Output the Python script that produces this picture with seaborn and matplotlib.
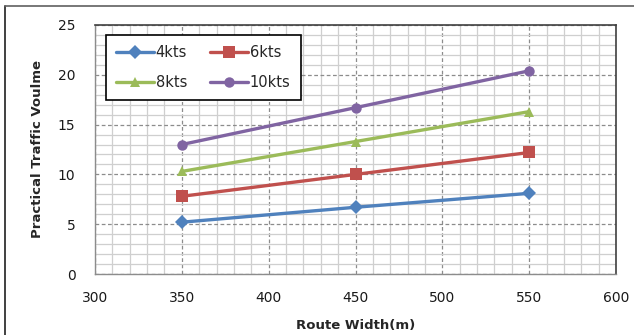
import matplotlib
matplotlib.use("Agg")
import matplotlib.pyplot as plt
from matplotlib.lines import Line2D
from matplotlib.ticker import MultipleLocator
import seaborn as sns
import pandas as pd

# Route width (m) and practical traffic volume for each vessel speed
route_width = [350, 450, 550]
vol_4kts = [5.2, 6.7, 8.1]
vol_6kts = [7.8, 10.0, 12.2]
vol_8kts = [10.3, 13.3, 16.3]
vol_10kts = [13.0, 16.7, 20.4]
speeds = ["4kts", "6kts", "8kts", "10kts"]

df = pd.DataFrame({
    "width": route_width * 4,
    "volume": vol_4kts + vol_6kts + vol_8kts + vol_10kts,
    "speed": [s for s in speeds for _ in route_width],
})

sns.set_style("white")
plt.rcParams["font.family"] = ["DejaVu Sans"]

palette = {"4kts": "#4F81BD", "6kts": "#C0504D", "8kts": "#9BBB59", "10kts": "#8064A2"}
markers = {"4kts": "D", "6kts": "s", "8kts": "^", "10kts": "o"}
msizes = {"4kts": 7, "6kts": 9, "8kts": 7, "10kts": 7.5}

fig = plt.figure(figsize=(6.34, 3.35), dpi=100)
ax = fig.add_axes([95 / 634, 1 - 274 / 335, (616 - 95) / 634, (274 - 25) / 335])

for s in speeds:
    sub = df[df["speed"] == s]
    sns.lineplot(data=sub, x="width", y="volume", ax=ax, color=palette[s],
                 marker=markers[s], markersize=msizes[s], markeredgewidth=0,
                 linewidth=2.4, label=s, zorder=5)

ax.set_xlim(300, 600)
ax.set_ylim(0, 25)
ax.xaxis.set_major_locator(MultipleLocator(50))
ax.yaxis.set_major_locator(MultipleLocator(5))
ax.xaxis.set_minor_locator(MultipleLocator(10))
ax.yaxis.set_minor_locator(MultipleLocator(1))

ax.grid(which="minor", color="#cfcfcf", linewidth=0.9, linestyle="-", zorder=0)
ax.grid(which="major", color="#8c8c8c", linewidth=0.9, linestyle=(0, (3, 2)), zorder=1)
ax.set_axisbelow(True)

for side in ["top", "right"]:
    ax.spines[side].set_color("#404040")
    ax.spines[side].set_linewidth(1.2)
for side in ["left", "bottom"]:
    ax.spines[side].set_color("#8c8c8c")
    ax.spines[side].set_linewidth(1.0)

ax.tick_params(axis="both", which="major", direction="out", length=6, width=1,
               color="#8c8c8c", labelsize=10, labelcolor="#1a1a1a")
ax.tick_params(axis="x", which="major", pad=6)
ax.tick_params(axis="y", which="major", pad=8)
ax.tick_params(which="minor", length=0)

ax.set_xlabel("Route Width(m)", fontsize=9.5, fontweight="bold")
ax.set_ylabel("Practical Traffic Voulme", fontsize=9.5, fontweight="bold")
ax.xaxis.set_label_coords(0.5, -(319 - 274) / 249)
ax.yaxis.set_label_coords(-(95 - 44) / 521, 0.5)

# legend laid out row by row: 4kts, 6kts / 8kts, 10kts
handles, labels = ax.get_legend_handles_labels()
order = [0, 2, 1, 3]
leg = ax.legend([handles[i] for i in order], [labels[i] for i in order],
                loc="upper left", bbox_to_anchor=(11 / 521, 1 - 10 / 249), ncol=2,
                frameon=True, fancybox=False, fontsize=10.5, handlelength=2.6,
                handletextpad=0.1, columnspacing=1.6, labelspacing=1.0,
                borderpad=0.7, borderaxespad=0)
leg.get_frame().set_edgecolor("#000000")
leg.get_frame().set_linewidth(1.2)
leg.get_frame().set_facecolor("white")
leg.get_frame().set_alpha(1)

# chart area border (left and top edges)
fig.add_artist(Line2D([5 / 634, 5 / 634], [0, 1 - 6 / 335], color="#202020", linewidth=1.2))
fig.add_artist(Line2D([5 / 634, 1], [1 - 6 / 335, 1 - 6 / 335], color="#606060", linewidth=1.2))

fig.savefig("out.png", dpi=100)
